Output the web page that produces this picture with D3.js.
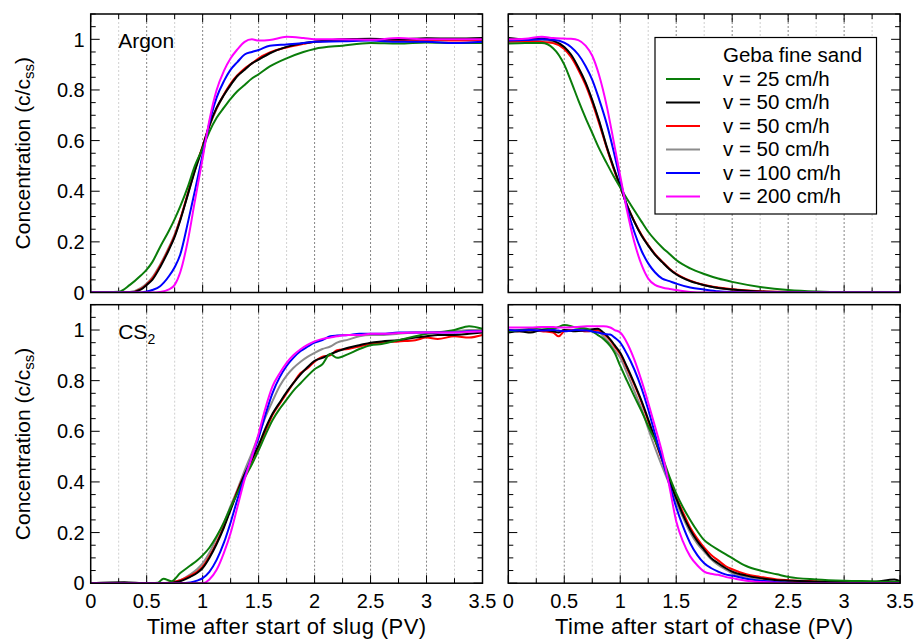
<!DOCTYPE html>
<html lang="en">
<head>
<meta charset="UTF-8">
<title>Argon and CS2 slug / chase curves</title>
<style>
  body { margin: 0; background: #fff; }
  svg text { font-family: "Liberation Sans", Arial, sans-serif; fill: #000; }
  .frame { fill: none; stroke: #000; stroke-width: 1.5px; }
  .grid-major { stroke: #666; stroke-dasharray: 2,2; stroke-width: 0.8px; }
  .grid-minor { stroke: #c4c4c4; stroke-dasharray: 2,2; stroke-width: 0.8px; }
  .tick { stroke: #000; stroke-width: 1px; }
  .curve { fill: none; stroke-width: 2px; stroke-linejoin: round; }
</style>
</head>
<body>
<script src="https://cdn.jsdelivr.net/npm/d3@7"></script>
<script>
// legend / series order
const seriesLabels = ["v = 25 cm/h", "v = 50 cm/h", "v = 50 cm/h", "v = 50 cm/h", "v = 100 cm/h", "v = 200 cm/h"];
const seriesColors = ["#0a7d0a", "#000000", "#ff0000", "#8c8c8c", "#0000ff", "#ff00ff"];
const drawOrder = [3, 2, 1, 0, 4, 5];

const xTicks = [0, 0.5, 1, 1.5, 2, 2.5, 3, 3.5];
const yTicks = [0, 0.2, 0.4, 0.6, 0.8, 1];

// Argon, time after start of slug
const argonSlugX = [0, 0.25, 0.35, 0.45, 0.5, 0.55, 0.62, 0.7, 0.75, 0.8, 0.87, 0.93, 1.0, 1.06, 1.125, 1.19, 1.25, 1.31, 1.375, 1.44, 1.5, 1.6, 1.75, 1.9, 2.0, 2.25, 2.5, 2.75, 3.0, 3.25, 3.5];
const argonSlugY = [
  [0, 0.003, 0.03, 0.068, 0.09, 0.12, 0.18, 0.245, 0.29, 0.34, 0.42, 0.5, 0.57, 0.635, 0.69, 0.73, 0.765, 0.795, 0.82, 0.845, 0.862, 0.893, 0.925, 0.95, 0.962, 0.975, 0.985, 0.983, 0.987, 0.985, 0.985],
  [0, 0, 0, 0.012, 0.03, 0.05, 0.1, 0.17, 0.22, 0.285, 0.39, 0.48, 0.575, 0.66, 0.73, 0.78, 0.82, 0.855, 0.88, 0.905, 0.92, 0.945, 0.97, 0.985, 0.99, 1.0, 1.002, 1.0, 1.004, 1.003, 1.005],
  [0, 0, 0, 0.014, 0.032, 0.055, 0.105, 0.175, 0.225, 0.29, 0.395, 0.485, 0.578, 0.66, 0.728, 0.782, 0.825, 0.858, 0.885, 0.905, 0.925, 0.948, 0.968, 0.982, 0.99, 0.995, 0.998, 0.993, 0.997, 0.995, 0.995],
  [0, 0, 0.002, 0.018, 0.036, 0.06, 0.11, 0.18, 0.23, 0.29, 0.39, 0.48, 0.57, 0.655, 0.725, 0.78, 0.82, 0.855, 0.88, 0.905, 0.92, 0.945, 0.97, 0.985, 0.99, 1.0, 1.0, 1.0, 1.002, 1.0, 1.0],
  [0, 0, 0, 0, 0.004, 0.01, 0.025, 0.065, 0.1, 0.15, 0.28, 0.4, 0.545, 0.67, 0.77, 0.835, 0.88, 0.91, 0.94, 0.95, 0.958, 0.975, 0.98, 0.985, 0.99, 0.992, 0.995, 0.99, 0.99, 0.985, 0.99],
  [0, 0, 0, 0, 0, 0, 0.002, 0.012, 0.03, 0.08, 0.21, 0.36, 0.53, 0.68, 0.8, 0.875, 0.925, 0.96, 0.99, 1.0, 0.995, 0.997, 1.01, 1.005, 1.0, 1.0, 0.998, 1.005, 1.0, 1.0, 1.0]
];

// Argon, time after start of chase
const argonChaseX = [0, 0.15, 0.3, 0.4, 0.5, 0.56, 0.625, 0.69, 0.75, 0.81, 0.88, 0.94, 1.0, 1.06, 1.125, 1.19, 1.25, 1.31, 1.375, 1.44, 1.5, 1.625, 1.75, 1.875, 2.0, 2.25, 2.5, 2.75, 3.0, 3.25, 3.5];
const argonChaseY = [
  [0.983, 0.985, 0.985, 0.965, 0.9, 0.835, 0.76, 0.69, 0.63, 0.57, 0.51, 0.46, 0.415, 0.37, 0.325, 0.28, 0.24, 0.208, 0.178, 0.152, 0.128, 0.095, 0.073, 0.055, 0.042, 0.022, 0.01, 0.004, 0.002, 0.002, 0.002],
  [1.005, 1.0, 1.003, 0.995, 0.97, 0.94, 0.89, 0.83, 0.76, 0.68, 0.575, 0.495, 0.42, 0.345, 0.28, 0.225, 0.185, 0.15, 0.12, 0.092, 0.072, 0.045, 0.029, 0.018, 0.012, 0.004, 0.001, 0, 0, 0, 0],
  [0.99, 0.992, 0.99, 0.985, 0.962, 0.93, 0.88, 0.82, 0.75, 0.67, 0.57, 0.49, 0.418, 0.345, 0.282, 0.228, 0.187, 0.152, 0.122, 0.094, 0.074, 0.047, 0.03, 0.02, 0.013, 0.005, 0.002, 0, 0, 0, 0],
  [0.995, 0.995, 0.998, 0.99, 0.968, 0.937, 0.887, 0.827, 0.757, 0.677, 0.573, 0.493, 0.42, 0.345, 0.28, 0.225, 0.185, 0.15, 0.12, 0.092, 0.072, 0.045, 0.029, 0.018, 0.012, 0.004, 0.001, 0, 0, 0, 0],
  [0.995, 0.997, 1.0, 0.998, 0.987, 0.97, 0.94, 0.895, 0.84, 0.765, 0.665, 0.56, 0.445, 0.335, 0.24, 0.165, 0.115, 0.08, 0.055, 0.045, 0.035, 0.02, 0.012, 0.005, 0.002, 0, 0, 0, 0, 0, 0],
  [1.0, 1.002, 1.01, 1.005, 1.003, 1.002, 0.997, 0.975, 0.935, 0.86, 0.735, 0.6, 0.46, 0.325, 0.2, 0.11, 0.055, 0.03, 0.02, 0.014, 0.01, 0.002, 0, 0, 0, 0, 0, 0, 0, 0, 0]
];

// CS2, time after start of slug
const cs2SlugX = [0, 0.3, 0.5, 0.6, 0.65, 0.72, 0.8, 0.89, 0.95, 1.0, 1.06, 1.125, 1.19, 1.25, 1.31, 1.375, 1.44, 1.5, 1.56, 1.625, 1.69, 1.75, 1.81, 1.875, 1.94, 2.0, 2.07, 2.14, 2.2, 2.3, 2.4, 2.5, 2.6, 2.75, 2.9, 3.0, 3.1, 3.25, 3.38, 3.5];
const cs2SlugY = [
  [0, 0, 0, 0.002, 0.018, 0.008, 0.04, 0.07, 0.09, 0.11, 0.14, 0.185, 0.24, 0.3, 0.355, 0.415, 0.47, 0.525, 0.585, 0.645, 0.69, 0.725, 0.76, 0.79, 0.82, 0.845, 0.865, 0.905, 0.89, 0.905, 0.925, 0.94, 0.945, 0.96, 0.975, 0.985, 0.99, 1.0, 1.015, 1.005],
  [0, 0.004, 0, 0, 0, 0.002, 0.008, 0.025, 0.04, 0.06, 0.1, 0.155, 0.22, 0.29, 0.36, 0.43, 0.49, 0.545, 0.61, 0.67, 0.715, 0.755, 0.79, 0.825, 0.855, 0.878, 0.89, 0.905, 0.915, 0.93, 0.94, 0.95, 0.955, 0.96, 0.97, 0.975, 0.98, 0.98, 0.985, 0.99],
  [0, 0, 0, 0, 0, 0.003, 0.012, 0.03, 0.045, 0.065, 0.105, 0.16, 0.225, 0.295, 0.365, 0.43, 0.485, 0.54, 0.6, 0.665, 0.71, 0.75, 0.79, 0.83, 0.85, 0.875, 0.895, 0.9, 0.92, 0.925, 0.935, 0.945, 0.95, 0.955, 0.96, 0.97, 0.965, 0.975, 0.97, 0.98],
  [0, 0, 0, 0, 0, 0.005, 0.012, 0.035, 0.055, 0.078, 0.12, 0.18, 0.24, 0.305, 0.37, 0.445, 0.515, 0.585, 0.655, 0.72, 0.78, 0.82, 0.85, 0.875, 0.895, 0.91, 0.925, 0.935, 0.95, 0.962, 0.975, 0.98, 0.98, 0.985, 0.99, 0.99, 0.992, 0.995, 1.0, 1.0],
  [0, 0, 0, 0, 0, 0, 0, 0.003, 0.01, 0.02, 0.045, 0.092, 0.16, 0.24, 0.33, 0.42, 0.5, 0.575, 0.665, 0.752, 0.815, 0.858, 0.89, 0.917, 0.935, 0.95, 0.96, 0.975, 0.978, 0.98, 0.985, 0.985, 0.985, 0.99, 0.99, 0.99, 0.99, 0.99, 0.995, 0.995],
  [0, 0, 0, 0, 0, 0, 0, 0, 0, 0, 0.015, 0.053, 0.12, 0.198, 0.3, 0.41, 0.5, 0.59, 0.69, 0.778, 0.83, 0.87, 0.9, 0.924, 0.942, 0.955, 0.965, 0.97, 0.975, 0.98, 0.98, 0.985, 0.985, 0.988, 0.99, 0.99, 0.99, 0.99, 0.993, 0.995]
];

// CS2, time after start of chase
const cs2ChaseX = [0, 0.1, 0.2, 0.3, 0.4, 0.45, 0.5, 0.6, 0.7, 0.8, 0.85, 0.91, 0.95, 1.0, 1.06, 1.125, 1.19, 1.25, 1.31, 1.375, 1.44, 1.5, 1.56, 1.625, 1.69, 1.75, 1.81, 1.875, 1.94, 2.0, 2.125, 2.25, 2.4, 2.5, 2.75, 3.0, 3.25, 3.45, 3.5];
const cs2ChaseY = [
  [0.995, 1.0, 1.005, 1.01, 1.005, 1.012, 1.02, 1.01, 1.005, 0.98, 0.965, 0.937, 0.91, 0.858, 0.8, 0.739, 0.68, 0.62, 0.565, 0.5, 0.42, 0.355, 0.3, 0.25, 0.205, 0.17, 0.15, 0.132, 0.115, 0.099, 0.068, 0.05, 0.035, 0.025, 0.015, 0.01, 0.008, 0.006, 0.006],
  [0.99, 0.995, 0.99, 1.0, 0.995, 0.99, 1.0, 0.995, 1.0, 1.005, 0.99, 0.963, 0.94, 0.91, 0.855, 0.79, 0.72, 0.647, 0.57, 0.488, 0.405, 0.335, 0.27, 0.211, 0.165, 0.132, 0.1, 0.079, 0.06, 0.046, 0.03, 0.02, 0.012, 0.01, 0.006, 0.005, 0.004, 0.015, 0.008],
  [1.0, 0.995, 1.0, 0.995, 0.99, 0.975, 0.995, 1.0, 0.995, 1.0, 0.985, 0.96, 0.935, 0.905, 0.85, 0.785, 0.715, 0.64, 0.565, 0.485, 0.405, 0.34, 0.28, 0.22, 0.175, 0.14, 0.112, 0.09, 0.068, 0.055, 0.035, 0.025, 0.015, 0.012, 0.008, 0.005, 0.005, 0.004, 0.004],
  [0.995, 1.0, 0.995, 1.0, 1.0, 0.995, 1.0, 1.0, 0.995, 0.995, 0.975, 0.945, 0.92, 0.89, 0.83, 0.76, 0.69, 0.61, 0.535, 0.46, 0.39, 0.32, 0.26, 0.2, 0.155, 0.125, 0.095, 0.072, 0.055, 0.04, 0.025, 0.015, 0.008, 0.006, 0.004, 0.003, 0.003, 0.003, 0.003],
  [1.0, 0.998, 1.0, 0.998, 1.0, 0.998, 0.995, 1.0, 0.998, 0.99, 0.985, 0.982, 0.97, 0.95, 0.905, 0.845, 0.77, 0.686, 0.59, 0.488, 0.39, 0.3, 0.225, 0.158, 0.11, 0.079, 0.06, 0.046, 0.035, 0.03, 0.018, 0.01, 0.004, 0.002, 0, 0, 0, 0, 0],
  [1.01, 1.01, 1.01, 1.012, 1.012, 1.01, 1.01, 1.012, 1.015, 1.015, 1.015, 1.01, 1.0, 0.99, 0.95, 0.884, 0.8, 0.713, 0.62, 0.515, 0.38, 0.245, 0.165, 0.106, 0.07, 0.046, 0.037, 0.033, 0.025, 0.02, 0.01, 0.005, 0.002, 0, 0, 0, 0, 0, 0]
];

const width = 917, height = 642;
const colLeft = [90.7, 508.3], rowTop = [14, 304.7];
const panelW = 391.8, panelH = 278.5;

const panels = [
  { xs: argonSlugX, ys: argonSlugY, col: 0, row: 0, tag: "Argon" },
  { xs: argonChaseX, ys: argonChaseY, col: 1, row: 0, legend: true },
  { xs: cs2SlugX, ys: cs2SlugY, col: 0, row: 1, tag: "CS2" },
  { xs: cs2ChaseX, ys: cs2ChaseY, col: 1, row: 1 }
];
const xTitles = ["Time after start of slug (PV)", "Time after start of chase (PV)"];

const svg = d3.select("body").append("svg")
  .attr("width", width)
  .attr("height", height);

const isMult = (v, step) => Math.abs(v / step - Math.round(v / step)) < 1e-6;

panels.forEach((p, i) => {
  const left = colLeft[p.col], top = rowTop[p.row];
  const x = d3.scaleLinear().domain([0, 3.5]).range([left, left + panelW]);
  const y = d3.scaleLinear().domain([0, 1.1]).range([top + panelH, top]);
  const g = svg.append("g");

  g.append("clipPath").attr("id", "clip" + i)
    .append("rect")
    .attr("x", left).attr("y", top)
    .attr("width", panelW).attr("height", panelH);

  // vertical grid every 0.25
  const xMinor = d3.range(0.25, 3.5, 0.25);
  g.selectAll("line.grid")
    .data(xMinor)
    .enter().append("line")
    .attr("class", d => isMult(d, 0.5) ? "grid-major" : "grid-minor")
    .attr("x1", d => x(d)).attr("x2", d => x(d))
    .attr("y1", top).attr("y2", top + panelH);

  // inward ticks on all four sides
  const xt = d3.range(0, 3.5001, 0.25);
  xt.forEach(v => {
    const len = isMult(v, 0.5) ? 8 : 5;
    g.append("line").attr("class", "tick")
      .attr("x1", x(v)).attr("x2", x(v))
      .attr("y1", top + panelH).attr("y2", top + panelH - len);
    g.append("line").attr("class", "tick")
      .attr("x1", x(v)).attr("x2", x(v))
      .attr("y1", top).attr("y2", top + len);
  });
  const yt = d3.range(0, 1.1001, 0.05);
  yt.forEach(v => {
    const len = isMult(v, 0.2) ? 9 : 5;
    g.append("line").attr("class", "tick")
      .attr("x1", left).attr("x2", left + len)
      .attr("y1", y(v)).attr("y2", y(v));
    g.append("line").attr("class", "tick")
      .attr("x1", left + panelW).attr("x2", left + panelW - len)
      .attr("y1", y(v)).attr("y2", y(v));
  });

  // curves
  const line = d3.line()
    .x((d, k) => x(p.xs[k]))
    .y(d => y(d))
    .curve(d3.curveMonotoneX);

  g.append("g").attr("clip-path", `url(#clip${i})`)
    .selectAll("path")
    .data(drawOrder)
    .enter().append("path")
    .attr("class", "curve")
    .attr("stroke", s => seriesColors[s])
    .attr("d", s => line(p.ys[s]));

  g.append("rect").attr("class", "frame")
    .attr("x", left).attr("y", top)
    .attr("width", panelW).attr("height", panelH);

  // y tick labels on the left panels
  if (p.col === 0) {
    g.selectAll("text.ylab")
      .data(yTicks)
      .enter().append("text")
      .attr("x", left - 6)
      .attr("y", d => y(d))
      .attr("dy", "0.36em")
      .attr("text-anchor", "end")
      .style("font-size", "20px")
      .text(d => String(d));

    const yt2 = g.append("text")
      .attr("transform", `translate(30,${top + panelH / 2}) rotate(-90)`)
      .attr("text-anchor", "middle")
      .style("font-size", "21px");
    yt2.append("tspan").text("Concentration (c/c");
    yt2.append("tspan").attr("dy", 4).style("font-size", "15px").text("ss");
    yt2.append("tspan").attr("dy", -4).text(")");
  }

  // x tick labels + title on the bottom row
  if (p.row === 1) {
    g.selectAll("text.xlab")
      .data(xTicks)
      .enter().append("text")
      .attr("x", d => x(d))
      .attr("y", top + panelH + 24.5)
      .attr("text-anchor", "middle")
      .style("font-size", "20px")
      .text(d => String(d));

    g.append("text")
      .attr("x", left + panelW / 2)
      .attr("y", 634)
      .attr("text-anchor", "middle")
      .style("font-size", "22px")
      .style("letter-spacing", "0.4px")
      .text(xTitles[p.col]);
  }

  if (p.tag === "Argon") {
    g.append("text").attr("x", left + 27.5).attr("y", top + 34)
      .style("font-size", "21px").text("Argon");
  }
  if (p.tag === "CS2") {
    const t = g.append("text").attr("x", left + 27.5).attr("y", top + 34.5)
      .style("font-size", "21px");
    t.append("tspan").text("CS");
    t.append("tspan").attr("dy", 5).style("font-size", "14px").text("2");
  }

  if (p.legend) {
    const lg = g.append("g");
    lg.append("rect")
      .attr("x", 655).attr("y", 37.5)
      .attr("width", 221.5).attr("height", 176.5)
      .attr("fill", "#fff").attr("stroke", "#000").attr("stroke-width", 1.2);
    lg.append("text").attr("x", 723).attr("y", 62)
      .style("font-size", "20.5px").text("Geba fine sand");
    seriesLabels.forEach((lab, k) => {
      const ly = 79 + k * 23.5;
      lg.append("line")
        .attr("x1", 666).attr("x2", 700)
        .attr("y1", ly).attr("y2", ly)
        .attr("stroke", seriesColors[k]).attr("stroke-width", 2.2);
      lg.append("text").attr("x", 723).attr("y", ly + 6.5)
        .style("font-size", "20.5px").text(lab);
    });
  }
});
</script>
</body>
</html>
